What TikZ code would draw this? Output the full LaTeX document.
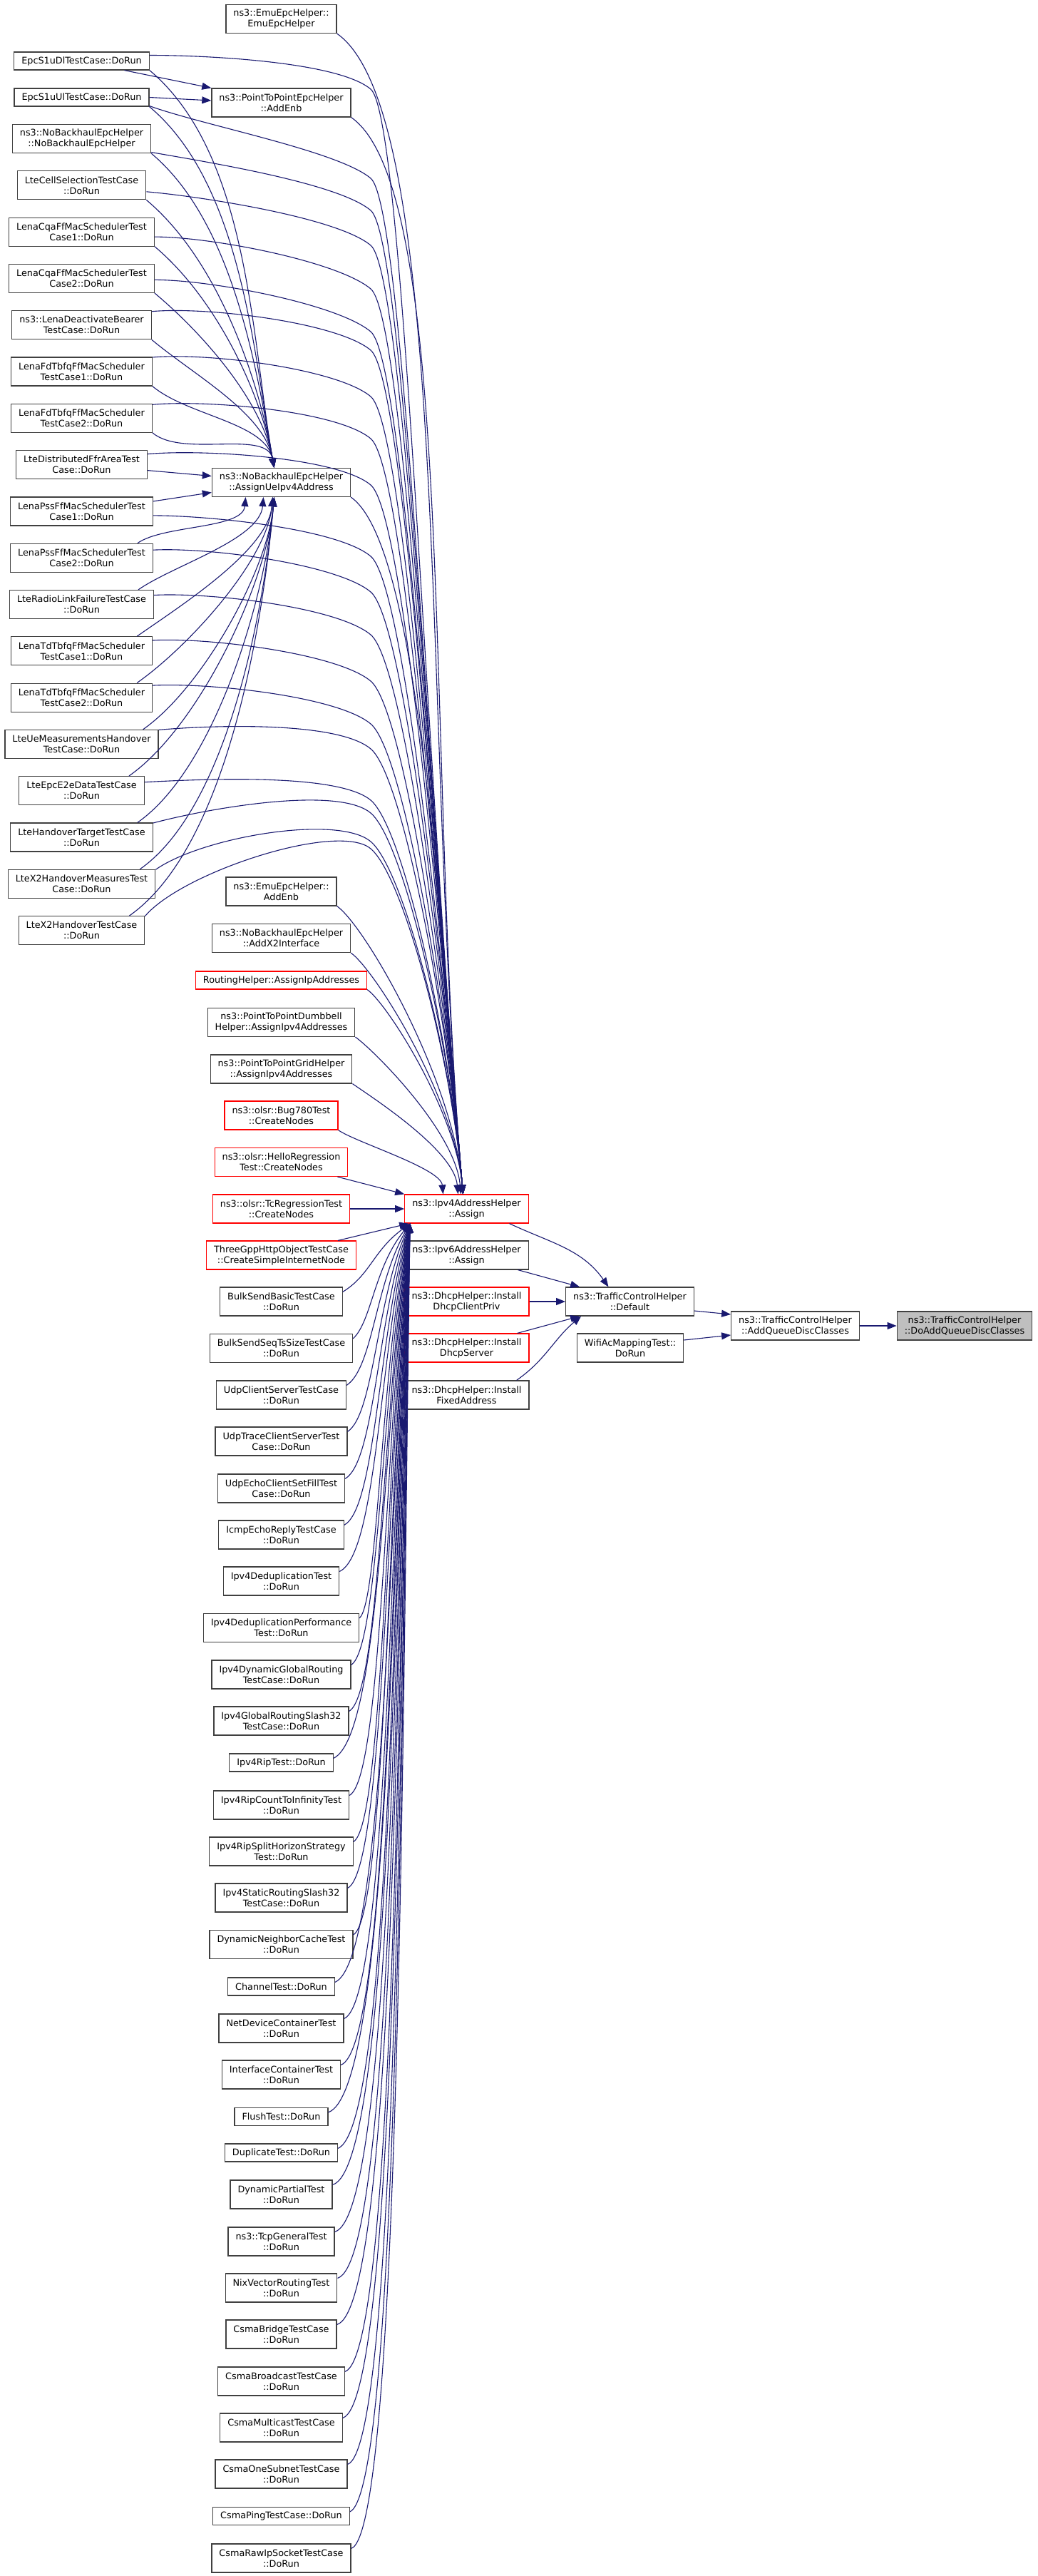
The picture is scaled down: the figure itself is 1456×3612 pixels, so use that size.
\documentclass[tikz,border=0pt]{standalone}
\usepackage{fontspec}
\usepackage{tikz}
\usetikzlibrary{arrows.meta}
\newfontfamily\doxfont{DejaVu Sans}
\definecolor{doxedge}{HTML}{191970}
\definecolor{doxgrey}{HTML}{404040}
\definecolor{doxred}{HTML}{FF0000}
\definecolor{doxroot}{HTML}{BFBFBF}

\begin{document}
\begin{tikzpicture}[x=1pt,y=1pt,
  fn/.style={draw=doxgrey,line width=1.2pt,fill=white,font=\doxfont\fontsize{12.8}{15}\selectfont,
    align=center,inner xsep=10.5pt,inner ysep=0pt,minimum height=25pt},
  fn2/.style={fn,minimum height=40pt},
  undoc/.style={draw=doxred},
  root/.style={fill=doxroot},
  call/.style={draw=doxedge,line width=1.1pt,-{Triangle[length=13pt,width=10pt]}}]
  \useasboundingbox (0,0) rectangle (1456,-3612);

  \node[fn] (dl) at (114.5,-85.5) {EpcS1uDlTestCase::DoRun};
  \node[fn] (ul) at (114.5,-136.5) {EpcS1uUlTestCase::DoRun};
  \foreach \nd/\txt [count=\i from 0] in {nb/{ns3::NoBackhaulEpcHelper\\::NoBackhaulEpcHelper},
      cs/{LteCellSelectionTestCase\\::DoRun}, cq1/{LenaCqaFfMacSchedulerTest\\Case1::DoRun},
      cq2/{LenaCqaFfMacSchedulerTest\\Case2::DoRun}, dab/{ns3::LenaDeactivateBearer\\TestCase::DoRun},
      fd1/{LenaFdTbfqFfMacScheduler\\TestCase1::DoRun}, fd2/{LenaFdTbfqFfMacScheduler\\TestCase2::DoRun},
      dff/{LteDistributedFfrAreaTest\\Case::DoRun}, ps1/{LenaPssFfMacSchedulerTest\\Case1::DoRun},
      ps2/{LenaPssFfMacSchedulerTest\\Case2::DoRun}, rlf/{LteRadioLinkFailureTestCase\\::DoRun},
      td1/{LenaTdTbfqFfMacScheduler\\TestCase1::DoRun}, td2/{LenaTdTbfqFfMacScheduler\\TestCase2::DoRun},
      uem/{LteUeMeasurementsHandover\\TestCase::DoRun}, e2e/{LteEpcE2eDataTestCase\\::DoRun},
      hot/{LteHandoverTargetTestCase\\::DoRun}, x2m/{LteX2HandoverMeasuresTest\\Case::DoRun},
      x2h/{LteX2HandoverTestCase\\::DoRun}}
    \node[fn2] (\nd) at (114.5,{-194.5-65.3*\i}) {\txt};

  \foreach \nd/\y/\txt in {ee/26.5/{ns3::EmuEpcHelper::\\EmuEpcHelper}, ae/144/{ns3::PointToPointEpcHelper\\::AddEnb},
      ue/676.5/{ns3::NoBackhaulEpcHelper\\::AssignUeIpv4Address}, ea/1250/{ns3::EmuEpcHelper::\\AddEnb},
      x2/1315.5/{ns3::NoBackhaulEpcHelper\\::AddX2Interface}, dmb/1433.5/{ns3::PointToPointDumbbell\\Helper::AssignIpv4Addresses},
      grd/1499/{ns3::PointToPointGridHelper\\::AssignIpv4Addresses}, bsb/1825/{BulkSendBasicTestCase\\::DoRun},
      bss/1890.5/{BulkSendSeqTsSizeTestCase\\::DoRun}, ucs/1956/{UdpClientServerTestCase\\::DoRun},
      utc/2021/{UdpTraceClientServerTest\\Case::DoRun}, uec/2087/{UdpEchoClientSetFillTest\\Case::DoRun},
      ier/2152/{IcmpEchoReplyTestCase\\::DoRun}, dd/2217/{Ipv4DeduplicationTest\\::DoRun},
      ddp/2282.5/{Ipv4DeduplicationPerformance\\Test::DoRun}, dgr/2348/{Ipv4DynamicGlobalRouting\\TestCase::DoRun},
      g32/2413/{Ipv4GlobalRoutingSlash32\\TestCase::DoRun}, rci/2531/{Ipv4RipCountToInfinityTest\\::DoRun},
      rsh/2596/{Ipv4RipSplitHorizonStrategy\\Test::DoRun}, s32/2661/{Ipv4StaticRoutingSlash32\\TestCase::DoRun},
      dnc/2726.5/{DynamicNeighborCacheTest\\::DoRun}, ndc/2844/{NetDeviceContainerTest\\::DoRun},
      ict/2909/{InterfaceContainerTest\\::DoRun}, dpt/3077/{DynamicPartialTest\\::DoRun},
      tgt/3143/{ns3::TcpGeneralTest\\::DoRun}, nix/3208/{NixVectorRoutingTest\\::DoRun},
      cbr/3273/{CsmaBridgeTestCase\\::DoRun}, cbc/3339/{CsmaBroadcastTestCase\\::DoRun},
      cmc/3404/{CsmaMulticastTestCase\\::DoRun}, cos/3469/{CsmaOneSubnetTestCase\\::DoRun},
      crw/3587/{CsmaRawIpSocketTestCase\\::DoRun}}
    \node[fn2] (\nd) at (394.5,-\y) {\txt};
  \foreach \nd/\y/\txt in {rip/2471.5/Ipv4RipTest::DoRun, cht/2785.5/ChannelTest::DoRun,
      flt/2968/FlushTest::DoRun, dup/3018.5/DuplicateTest::DoRun, cpg/3528/CsmaPingTestCase::DoRun}
    \node[fn] (\nd) at (394.5,-\y) {\txt};
  \node[fn,undoc] (rh) at (394.5,-1374.5) {RoutingHelper::AssignIpAddresses};
  \foreach \nd/\y/\txt in {b780/1564/{ns3::olsr::Bug780Test\\::CreateNodes}, hlo/1629.5/{ns3::olsr::HelloRegression\\Test::CreateNodes},
      tcr/1695/{ns3::olsr::TcRegressionTest\\::CreateNodes}, tgp/1760/{ThreeGppHttpObjectTestCase\\::CreateSimpleInternetNode}}
    \node[fn2,undoc] (\nd) at (394.5,-\y) {\txt};

  \node[fn2,undoc] (ipv4) at (654.5,-1695) {ns3::Ipv4AddressHelper\\::Assign};
  \node[fn2] (ipv6) at (654.5,-1760) {ns3::Ipv6AddressHelper\\::Assign};
  \node[fn2,undoc] (dcp) at (654.5,-1825) {ns3::DhcpHelper::Install\\DhcpClientPriv};
  \node[fn2,undoc] (dsv) at (654.5,-1890) {ns3::DhcpHelper::Install\\DhcpServer};
  \node[fn2] (dfa) at (654.5,-1956) {ns3::DhcpHelper::Install\\FixedAddress};
  \node[fn2] (def) at (883.5,-1825) {ns3::TrafficControlHelper\\::Default};
  \node[fn2] (wifi) at (884,-1890) {WifiAcMappingTest::\\DoRun};
  \node[fn2] (aq) at (1115.5,-1859) {ns3::TrafficControlHelper\\::AddQueueDiscClasses};
  \node[fn2,root] (doq) at (1353,-1859) {ns3::TrafficControlHelper\\::DoAddQueueDiscClasses};

  \draw[call] ([xshift=60]dl.south) -- (ae.north west);
  \draw[call] (ul.east) -- ([yshift=3]ae.west);
  \foreach \nd in {dl,ul,nb,cs,cq1,cq2,dab,fd1,fd2}
    \draw[call] (\nd.south east) to[out=-40,in=100,looseness=0.8] ([xshift=-10]ue.north);
  \draw[call] ([yshift=-8]dff.east) -- ([yshift=9]ue.west);
  \draw[call] ([yshift=14]ps1.east) -- ([yshift=-14]ue.west);
  \foreach \nd/\ex in {ps2/-50,rlf/-25,td1/-12,td2/-12,uem/-10,e2e/-10,hot/-10,x2m/-10,x2h/-10}
    \draw[call] ([xshift=-22]\nd.north east) to[out=35,in=-95,looseness=0.7] ([xshift=\ex]ue.south);

  \foreach \nd/\sh/\ang/\kn in {dl/8/0/125, ul/-12/-20/250, nb/-19/-10/295, cs/-9/-5/344, cq1/-7/0/405,
      cq2/-2/0/465, dab/19/5/491, fd1/20/5/556, fd2/19/5/615, dff/15/5/680, ps1/-6/0/780, ps2/11/3/830,
      rlf/13/3/890, td1/15/3/955, td2/17/3/1015, uem/20/5/1050, e2e/12/3/1122, hot/20/15/1140,
      x2m/20/35/1180, x2h/20/50/1190}
  {
    \pgfmathsetmacro\ind{0.4*(1675-\kn)}
    \draw[call] ([yshift=\sh]\nd.east) .. controls +(\ang:80) and +(140:60) .. (520,-\kn)
      .. controls +(-40:60) and +(95:\ind) .. ([xshift=-5]ipv4.north);
  }
  \foreach \nd/\bt/\ex in {ee/46/-5, ae/164/-5, ue/696/-5, ea/1270/-5, x2/1335/-5, rh/1387/-5,
      dmb/1454/-8, grd/1519/-12, b780/1584/-33}
  {
    \pgfmathsetmacro\outd{max(30,0.12*(1675-\bt))}
    \pgfmathsetmacro\ind{0.4*(1675-\bt)}
    \draw[call] (\nd.south east) .. controls +(-35:\outd) and +(95:\ind) .. ([xshift=\ex]ipv4.north);
  }
  \draw[call] ([xshift=-15]hlo.south east) -- (ipv4.north west);
  \draw[call] (tcr) -- (ipv4);
  \draw[call] ([xshift=-26]tgp.north east) -- ([xshift=6]ipv4.south west);
  \foreach \nd/\y in {bsb/1825, bss/1890.5, ucs/1956, utc/2021, uec/2087, ier/2152, dd/2217, ddp/2282.5,
      dgr/2348, g32/2413, rip/2471.5, rci/2531, rsh/2596, s32/2661, dnc/2726.5, cht/2785.5, ndc/2844,
      ict/2909, flt/2968, dup/3018.5, dpt/3077, tgt/3143, nix/3208, cbr/3273, cbc/3339, cmc/3404,
      cos/3469, cpg/3528, crw/3587}
  {
    \pgfmathsetmacro\lane{520+0.02384*(\y-1825)}
    \pgfmathsetmacro\ctly{1716+0.35*(\y-1716)}
    \draw[call] ([yshift=-7]\nd.north east) .. controls (\lane,-\y+38) and (\lane+3,-\ctly) .. ([xshift=8]ipv4.south west);
  }

  \draw[call] ([xshift=60]ipv4.south) to[out=-25,in=125] ([xshift=-30]def.north);
  \draw[call] ([xshift=72]ipv6.south) -- ([xshift=20]def.north west);
  \draw[call] (dcp.east) -- (def.west);
  \draw[call] ([xshift=-17]dsv.north east) -- ([xshift=20]def.south west);
  \draw[call] ([xshift=-18]dfa.north east) to[out=35,in=-140] ([xshift=22]def.south west);
  \draw[call] ([yshift=-13]def.east) -- ([yshift=16]aq.west);
  \draw[call] ([yshift=11]wifi.east) -- ([yshift=-13]aq.west);
  \draw[call] (aq) -- (doq);
\end{tikzpicture}
\end{document}
